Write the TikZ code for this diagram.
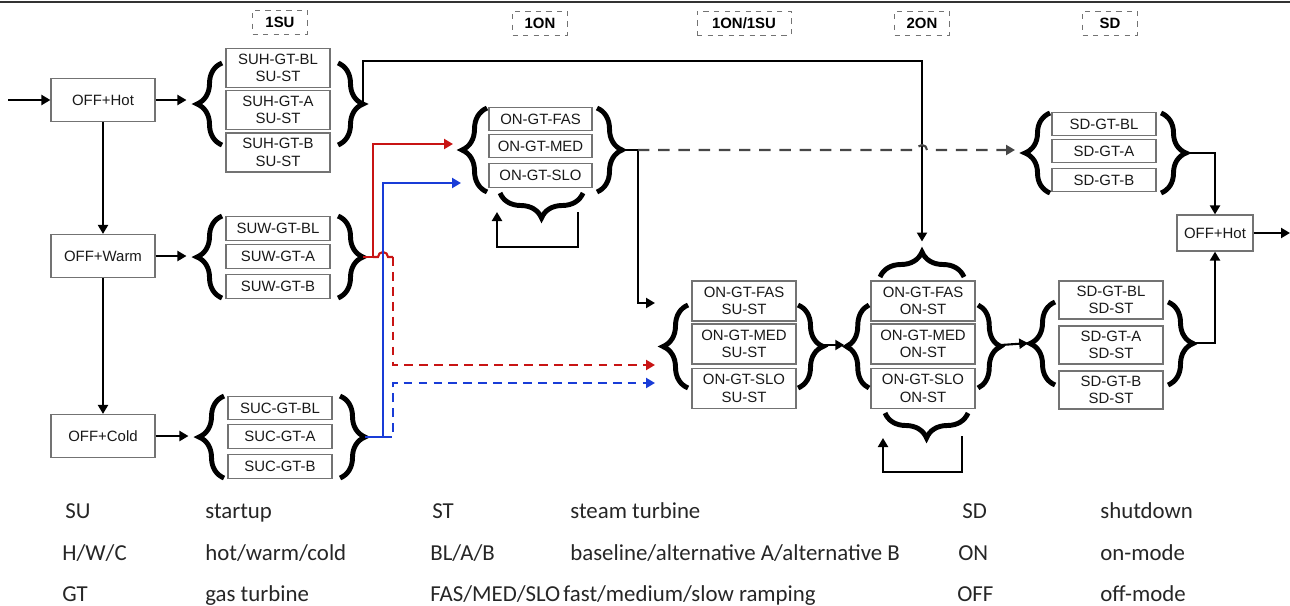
\documentclass[tikz,border=0pt]{standalone}
\usepackage{fontspec}
\newfontfamily\arialf{Liberation Sans}
\newfontfamily\legfont{Carlito}
\usetikzlibrary{arrows.meta,decorations.pathreplacing}

\definecolor{redln}{RGB}{200,20,20}
\definecolor{blueln}{RGB}{25,60,215}
\definecolor{dashln}{RGB}{70,70,70}

\tikzset{
  box/.style={draw=black!55,line width=0.7pt,fill=white,text=black!90,align=center,
    font=\arialf\fontsize{8.5}{10}\selectfont,inner sep=1pt,minimum width=2.08cm},
  offbox/.style={box,minimum height=0.86cm},
  sbox/.style={box,minimum height=0.47cm},
  dbox/.style={box,minimum height=0.78cm},
  tag/.style={draw=black!55,dashed,line width=0.5pt,font=\arialf\bfseries\fontsize{8.5}{10}\selectfont,
    minimum width=1.1cm,minimum height=0.48cm,inner sep=1pt},
  brc/.style={decorate,decoration={brace,amplitude=0.5cm},line width=2.8pt},
  link/.style={-{Triangle[length=1.8mm,width=2mm]},line width=1.2pt},
  redpath/.style={draw=redln,line width=1.2pt},
  bluepath/.style={draw=blueln,line width=1.2pt},
  dashd/.style={dash pattern=on 5pt off 3.5pt},
  leg/.style={anchor=base west,inner sep=0pt,font=\legfont\fontsize{13}{15}\selectfont,text=black!85},
}

\begin{document}
\begin{tikzpicture}[x=0.02cm,y=-0.02cm]
  \useasboundingbox (0,0) rectangle (1290,605);
  \draw[black!80,line width=1pt] (0,2) -- (1290,2);

  % phase tags
  \node[tag] (t1su) at (280,22) {1SU};
  \node[tag] (t1on) at (540,23) {1ON};
  \node[tag,minimum width=1.88cm] (t1on1su) at (744,23) {1ON/1SU};
  \node[tag] (t2on) at (922,23) {2ON};
  \node[tag] (tsd) at (1110,23) {SD};

  % off states
  \node[offbox] (offhot) at (103,100) {OFF+Hot};
  \node[offbox] (offwarm) at (103,256) {OFF+Warm};
  \node[offbox] (offcold) at (103,436) {OFF+Cold};
  \node[offbox,minimum width=1.52cm,minimum height=0.72cm] (offhot2) at (1215,233) {OFF+Hot};
  \coordinate (in) at (8,100);
  \coordinate (out) at (1290,233);

  % 1SU: hot start
  \node[dbox] (suhbl) at (278,68) {SUH-GT-BL\\SU-ST};
  \node[dbox] (suha) at (278,110) {SUH-GT-A\\SU-ST};
  \node[dbox] (suhb) at (278,152.5) {SUH-GT-B\\SU-ST};
  \draw[brc] (222,145) -- (222,63);
  \draw[brc] (338,63) -- (338,145);
  \coordinate (suhL) at (197,104);
  \coordinate (suhR) at (363,104);

  % 1SU: warm start
  \node[sbox] (suwbl) at (278,228.5) {SUW-GT-BL};
  \node[sbox] (suwa) at (278,256.5) {SUW-GT-A};
  \node[sbox] (suwb) at (278,286.5) {SUW-GT-B};
  \draw[brc] (222,298) -- (222,216);
  \draw[brc] (338,216) -- (338,298);
  \coordinate (suwL) at (197,257);
  \coordinate (suwR) at (363,257);

  % 1SU: cold start
  \node[sbox] (sucbl) at (280,408) {SUC-GT-BL};
  \node[sbox] (suca) at (280,436.5) {SUC-GT-A};
  \node[sbox] (sucb) at (280,466.5) {SUC-GT-B};
  \draw[brc] (224,478) -- (224,396);
  \draw[brc] (340,396) -- (340,478);
  \coordinate (sucL) at (199,437);
  \coordinate (sucR) at (365,437);

  % 1ON
  \node[sbox,minimum width=2.06cm] (onfas) at (540.5,119) {ON-GT-FAS};
  \node[sbox,minimum width=2.06cm] (onmed) at (540.5,146) {ON-GT-MED};
  \node[sbox,minimum width=2.06cm] (onslo) at (540.5,175.5) {ON-GT-SLO};
  \draw[brc] (487,192) -- (487,108);
  \draw[brc] (597,108) -- (597,192);
  \draw[brc] (583,193) -- (500,193);
  \coordinate (onR) at (622,150);
  \coordinate (onj) at (638,150);
  \coordinate (redend) at (453,144);
  \coordinate (blueend) at (461,183);
  \coordinate (loopa1) at (578,212);
  \coordinate (loopa2) at (497,212);

  % 1ON/1SU
  \node[dbox,minimum width=2.08cm,minimum height=0.8cm] (o1fas) at (744,301) {ON-GT-FAS\\SU-ST};
  \node[dbox,minimum width=2.08cm,minimum height=0.8cm] (o1med) at (744,344) {ON-GT-MED\\SU-ST};
  \node[dbox,minimum width=2.08cm,minimum height=0.8cm] (o1slo) at (744,388.5) {ON-GT-SLO\\SU-ST};
  \draw[brc] (688,388) -- (688,305);
  \draw[brc] (798,305) -- (798,388);
  \coordinate (o1top) at (655,303);
  \coordinate (o1R) at (823,345);
  \coordinate (reddash) at (655,365);
  \coordinate (bluedash) at (655,383);

  % 2ON
  \node[dbox,minimum height=0.8cm] (o2fas) at (923,301) {ON-GT-FAS\\ON-ST};
  \node[dbox,minimum height=0.8cm] (o2med) at (923,344) {ON-GT-MED\\ON-ST};
  \node[dbox,minimum height=0.8cm] (o2slo) at (923,388.5) {ON-GT-SLO\\ON-ST};
  \draw[brc,decoration={amplitude=0.45cm}] (869,388) -- (869,305);
  \draw[brc,decoration={amplitude=0.45cm}] (978,305) -- (978,388);
  \draw[brc] (880,277) -- (964,277);
  \draw[brc] (968,413) -- (885,413);
  \coordinate (o2L) at (846,345);
  \coordinate (o2R) at (1001,345);
  \coordinate (o2top) at (922,253);
  \coordinate (loopb1) at (962,436);
  \coordinate (loopb2) at (883,438);

  % SD with steam turbine
  \node[dbox,minimum height=0.76cm] (sdsbl) at (1111,300) {SD-GT-BL\\SD-ST};
  \node[dbox,minimum height=0.76cm] (sdsa) at (1111,345) {SD-GT-A\\SD-ST};
  \node[dbox,minimum height=0.76cm] (sdsb) at (1111,390) {SD-GT-B\\SD-ST};
  \draw[brc] (1055,385) -- (1055,302);
  \draw[brc] (1168,302) -- (1168,385);
  \coordinate (sdsL) at (1030,343);
  \coordinate (sdsR) at (1193,343);

  % SD
  \node[sbox] (sdbl) at (1104,124) {SD-GT-BL};
  \node[sbox] (sda) at (1104,151) {SD-GT-A};
  \node[sbox] (sdb) at (1104,180) {SD-GT-B};
  \draw[brc] (1050,193) -- (1050,113);
  \draw[brc] (1161,113) -- (1161,193);
  \coordinate (sdL) at (1025,150);
  \coordinate (sdR) at (1186,153);

  % connectors
  \draw[link] (in) -- (offhot);
  \draw[link] (offhot) -- (offwarm);
  \draw[link] (offwarm) -- (offcold);
  \draw[link,shorten >=6pt] (offhot) -- (offhot -| suhL);
  \draw[link,shorten >=6pt] (offwarm) -- (offwarm -| suwL);
  \draw[link,shorten >=6pt] (offcold) -- (offcold -| sucL);

  \draw[link] (suhR) -- (363,61) -| ([yshift=2.3mm]o2top);

  \draw[redpath,link] (suwR) -- (373,257) |- (redend);
  \draw[redpath] (373,257) -- (378,257) arc[start angle=180,end angle=0,radius=1mm] -- (393,257);
  \draw[redpath,dashd,link] (393,257) |- (reddash);
  \draw[bluepath,link] (sucR) -- (383,437) |- (blueend);
  \draw[bluepath,dashd,link] (383,437) -- (393,437) |- (bluedash);

  \draw[link] (onR) -- (onj) |- (o1top);
  \draw[dashln,line width=1.2pt,dash pattern=on 6.5pt off 5pt,-{Triangle[length=1.8mm,width=2mm]}]
    (onj) -- (917,150) arc[start angle=180,end angle=0,radius=1mm] -- ([xshift=-2mm]sdL);
  \draw[link] (loopa1) -- (578,247) -| (loopa2);
  \draw[link,shorten >=1pt] (o1R) -- (o2L);
  \draw[link] (loopb1) -- (962,472) -| (loopb2);
  \draw[link,shorten >=1pt] (o2R) -- (sdsL);
  \draw[link] (sdsR) -| (offhot2);
  \draw[link] (sdR) -| (offhot2);
  \draw[link] (offhot2) -- (out);

  % legend
  \node[leg] (l1a) at (65,518) {SU};
  \node[leg] (l1b) at (205,518) {startup};
  \node[leg] (l1c) at (432,518) {ST};
  \node[leg] (l1d) at (570,518) {steam turbine};
  \node[leg] (l1e) at (962,518) {SD};
  \node[leg] (l1f) at (1100,518) {shutdown};
  \node[leg] (l2a) at (62,560) {H/W/C};
  \node[leg] (l2b) at (205,560) {hot/warm/cold};
  \node[leg] (l2c) at (430,560) {BL/A/B};
  \node[leg] (l2d) at (570,560) {baseline/alternative A/alternative B};
  \node[leg] (l2e) at (958,560) {ON};
  \node[leg] (l2f) at (1100,560) {on-mode};
  \node[leg] (l3a) at (62,601) {GT};
  \node[leg] (l3b) at (205,601) {gas turbine};
  \node[leg] (l3c) at (430,601) {FAS/MED/SLO};
  \node[leg] (l3d) at (563,601) {fast/medium/slow ramping};
  \node[leg] (l3e) at (957,601) {OFF};
  \node[leg] (l3f) at (1100,601) {off-mode};
\end{tikzpicture}
\end{document}
